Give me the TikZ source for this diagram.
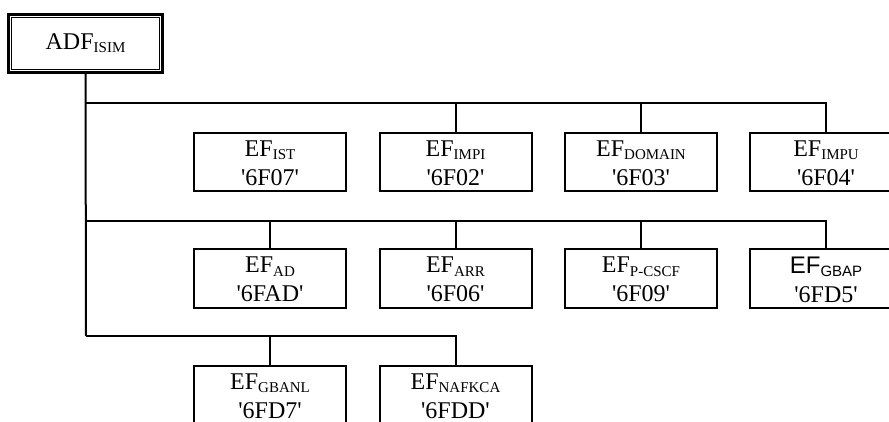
\documentclass[tikz,border=0pt]{standalone}
\usepackage{fontspec}
\setmainfont{Liberation Serif}
\setsansfont{Liberation Sans}
\newcommand{\efsub}[1]{\raisebox{-3.3pt}{\fontsize{15}{15}\selectfont #1}}
\newcommand{\fileid}[1]{\textquotesingle#1\textquotesingle}
\newcommand{\eftext}[2]{\raisebox{-1pt}[\height][\depth]{%
	\parbox{150pt}{\centering #1\\\fileid{#2}}}}
\tikzset{
	efbox/.style={draw, line width=2pt, minimum width=152pt, minimum height=58pt,
		inner sep=0pt, font=\fontsize{24}{29}\selectfont},
	adfbox/.style={draw, line width=2.7pt, minimum width=154.5pt, minimum height=58.5pt,
		inner sep=0pt, font=\fontsize{24}{29}\selectfont},
	bus/.style={line width=2pt}
}
\begin{document}
\begin{tikzpicture}[x=1pt, y=-1pt]
	\useasboundingbox (0,0) rectangle (889,422);
	%top box
	\node[adfbox] (adf) at (85.5,43.5) {ADF\efsub{ISIM}};
	\draw[line width=1pt] ([xshift=4.3pt,yshift=-4.3pt]adf.north west)
		rectangle ([xshift=-4.3pt,yshift=4.3pt]adf.south east);
	%file boxes
	\foreach \name/\x/\y/\sub/\id in {
		ist/270/162/IST/6F07,
		impi/455.5/162/IMPI/6F02,
		domain/641/162/DOMAIN/6F03,
		impu/826/162/IMPU/6F04,
		ad/270/278.5/AD/6FAD,
		arr/455.5/278.5/ARR/6F06,
		pcscf/641/278.5/P-CSCF/6F09,
		gbanl/270/395/GBANL/6FD7,
		nafkca/455.5/395/NAFKCA/6FDD}
	\node[efbox] (\name) at (\x,\y) {\eftext{EF\efsub{\sub}}{\id}};
	\node[efbox] (gbap) at (826,278.5) {\eftext{{\sffamily EF\efsub{GBAP}}}{6FD5}};
	%bus lines
	\coordinate (bus1) at (86,103);
	\coordinate (bus2) at (86,221);
	\coordinate (bus3) at (86,336);
	\draw[bus] (adf.south) -- (bus3);
	\draw[bus] (bus1) -| (impu.north);
	\draw[bus] (bus2) -| (gbap.north);
	\draw[bus] (bus3) -| (nafkca.north);
	\foreach \n/\b in {impi/bus1, domain/bus1, ad/bus2, arr/bus2, pcscf/bus2, gbanl/bus3}
	\draw[bus] (\n.north) -- (\n.north |- \b);
\end{tikzpicture}
\end{document}
